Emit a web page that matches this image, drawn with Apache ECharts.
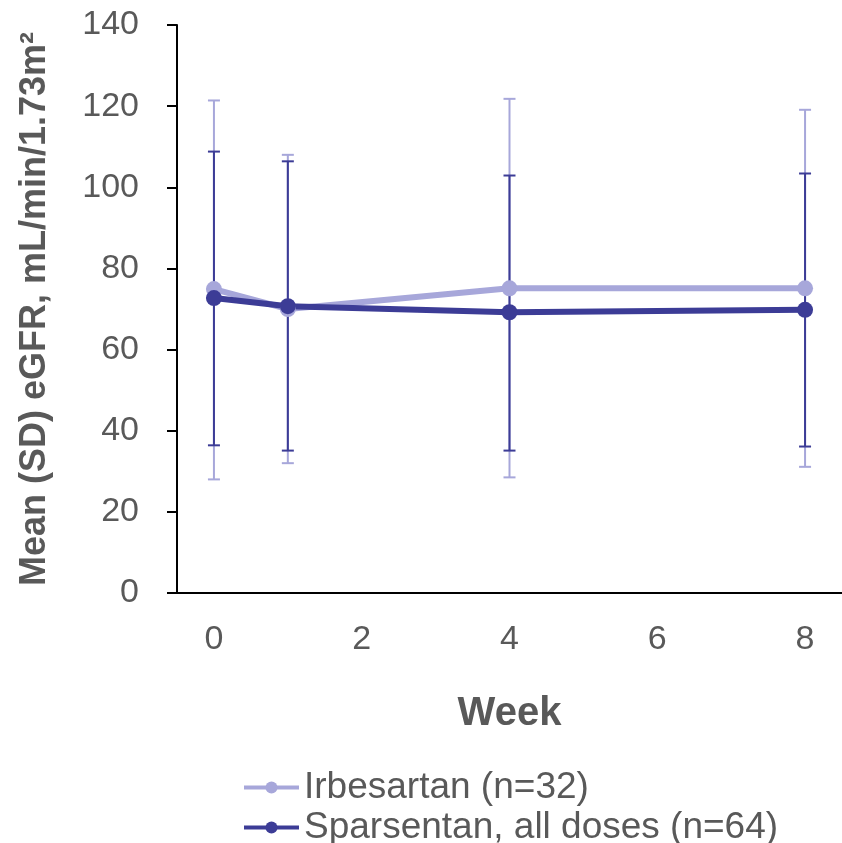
<!DOCTYPE html>
<html>
<head>
<meta charset="utf-8">
<script src="https://cdn.jsdelivr.net/npm/echarts@6/dist/echarts.min.js"></script>
<style>
  html, body { margin: 0; padding: 0; background: #ffffff; }
  #chart { width: 842px; height: 843px; }
</style>
</head>
<body>
<div id="chart"></div>
<script>
// data
const weeks = [0, 1, 4, 8];
const xTicks = [0, 2, 4, 6, 8];
const irbName = 'Irbesartan (n=32)';
const irbMean = [74.9, 70.0, 75.1, 75.1];
const irbLow = [28.0, 32.0, 28.5, 31.1];
const irbHigh = [121.4, 108.0, 121.8, 119.1];
const spaName = 'Sparsentan, all doses (n=64)';
const spaMean = [72.7, 70.7, 69.2, 69.8];
const spaLow = [36.4, 35.1, 35.1, 36.1];
const spaHigh = [108.8, 106.4, 102.9, 103.4];

const LIGHT = '#a7a7da';
const DARK = '#3c3c96';
const FONT = "'Liberation Sans', Arial, sans-serif";

const chart = echarts.init(document.getElementById('chart'));

const errorBars = (low, high, color) => ({
  type: 'custom',
  silent: true,
  data: weeks.map((w, i) => [w, low[i], high[i]]),
  renderItem: (params, api) => {
    const x = api.value(0);
    const lo = api.coord([x, api.value(1)]);
    const hi = api.coord([x, api.value(2)]);
    const cap = 6;
    const style = { stroke: color, lineWidth: 2 };
    return {
      type: 'group',
      children: [
        { type: 'line', shape: { x1: lo[0], y1: lo[1], x2: hi[0], y2: hi[1] }, style },
        { type: 'line', shape: { x1: hi[0] - cap, y1: hi[1], x2: hi[0] + cap, y2: hi[1] }, style },
        { type: 'line', shape: { x1: lo[0] - cap, y1: lo[1], x2: lo[0] + cap, y2: lo[1] }, style },
      ],
    };
  },
});

const meanLine = (name, mean, color) => ({
  name,
  type: 'line',
  data: weeks.map((w, i) => [w, mean[i]]),
  symbol: 'circle',
  symbolSize: 16,
  lineStyle: { color, width: 6 },
  itemStyle: { color },
  z: 3,
});

const legendRow = (name, top) => ({
  left: 242,
  top,
  padding: 0,
  itemWidth: 55,
  itemHeight: 15,
  data: [name],
  lineStyle: { width: 4 },
  textStyle: { fontFamily: FONT, fontSize: 37, color: '#595959' },
});

const option = {
  animation: false,
  textStyle: { fontFamily: FONT },
  grid: { left: 177, top: 25, bottom: 250, width: 675 },
  legend: [legendRow(irbName, 769), legendRow(spaName, 809)],
  xAxis: {
    type: 'value',
    min: -0.5,
    max: 8.5,
    name: 'Week',
    nameLocation: 'middle',
    nameGap: 101,
    nameTextStyle: { fontFamily: FONT, fontSize: 40, fontWeight: 'bold', color: '#595959' },
    axisLine: { onZero: false, lineStyle: { color: '#000', width: 2 } },
    axisTick: { show: false },
    splitLine: { show: false },
    axisLabel: {
      customValues: xTicks,
      margin: 30,
      fontFamily: FONT,
      fontSize: 34,
      color: '#595959',
    },
  },
  yAxis: {
    type: 'value',
    min: 0,
    max: 140,
    interval: 20,
    name: 'Mean (SD) eGFR, mL/min/1.73m²',
    nameLocation: 'middle',
    nameGap: 124,
    nameTextStyle: { fontFamily: FONT, fontSize: 36, fontWeight: 'bold', color: '#595959' },
    axisLine: { show: true, onZero: false, lineStyle: { color: '#000', width: 2 } },
    axisTick: { show: true, inside: false, length: 10, lineStyle: { color: '#000', width: 2 } },
    splitLine: { show: false },
    axisLabel: { margin: 38, fontFamily: FONT, fontSize: 34, color: '#595959' },
  },
  series: [
    errorBars(irbLow, irbHigh, LIGHT),
    errorBars(spaLow, spaHigh, DARK),
    meanLine(irbName, irbMean, LIGHT),
    meanLine(spaName, spaMean, DARK),
  ],
};

chart.setOption(option);
</script>
</body>
</html>
